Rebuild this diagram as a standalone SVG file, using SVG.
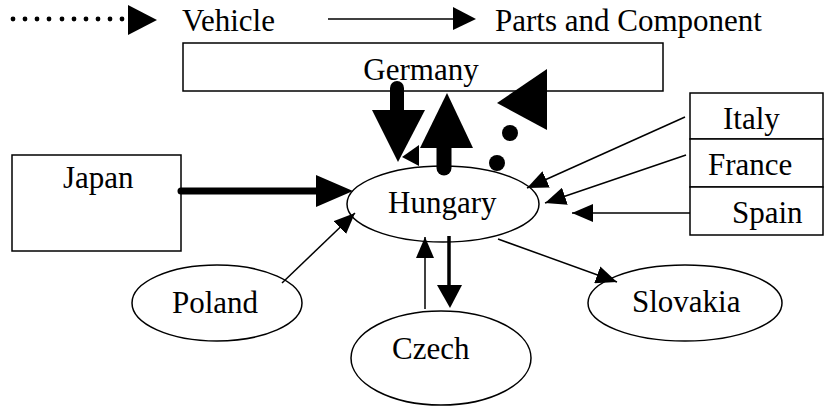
<svg xmlns="http://www.w3.org/2000/svg" width="824" height="407" viewBox="0 0 824 407" font-family="Liberation Serif, Times New Roman, serif">
<style>
  .box { fill: #fff; stroke: #000; stroke-width: 1.5; }
  .lbl { font-family: Liberation Serif, serif; font-size: 31px; fill: #000; }
  .thin { stroke: #000; stroke-width: 1.5; fill: none; }
  .solid { fill: #000; stroke: none; }
</style>
<defs>
  <marker id="ah" markerUnits="userSpaceOnUse" markerWidth="22" markerHeight="18" refX="21" refY="9" orient="auto">
    <polygon points="0,0 21,9 0,18" fill="#000"/>
  </marker>
</defs>
<rect width="824" height="407" fill="#fff"/>

<g id="legend">
  <g class="solid">
    <circle cx="13" cy="19" r="2.4"/><circle cx="25" cy="19" r="2.4"/><circle cx="37" cy="19" r="2.4"/>
    <circle cx="49" cy="19" r="2.4"/><circle cx="62" cy="19" r="2.4"/><circle cx="74" cy="19" r="2.4"/>
    <circle cx="86" cy="19" r="2.4"/><circle cx="98" cy="19" r="2.4"/><circle cx="110" cy="19" r="2.4"/>
    <circle cx="122" cy="19" r="2.4"/>
    <polygon points="128,5 157,20 128,35"/>
  </g>
  <text class="lbl" font-family="Liberation Serif, serif" x="182" y="31">Vehicle</text>
  <line x1="328" y1="19" x2="455" y2="19" stroke="#000" stroke-width="1.5"/>
  <polygon class="solid" points="453,7 476,19 453,30"/>
  <text class="lbl" font-family="Liberation Serif, serif" x="495" y="31">Parts and Component</text>
</g>

<g id="germany">
  <rect class="box" x="183" y="43" width="480" height="48"/>
  <text class="lbl" font-family="Liberation Serif, serif" x="421" y="80" text-anchor="middle">Germany</text>
</g>

<g id="japan">
  <rect class="box" x="12" y="155" width="169" height="96"/>
  <text class="lbl" font-family="Liberation Serif, serif" x="63" y="188">Japan</text>
</g>

<g id="italy">
  <rect class="box" x="690" y="93" width="133" height="46"/>
  <text class="lbl" font-family="Liberation Serif, serif" x="723" y="129">Italy</text>
</g>
<g id="france">
  <rect class="box" x="690" y="139" width="133" height="48"/>
  <text class="lbl" font-family="Liberation Serif, serif" x="708" y="175">France</text>
</g>
<g id="spain">
  <rect class="box" x="690" y="187" width="133" height="48"/>
  <text class="lbl" font-family="Liberation Serif, serif" x="732" y="223">Spain</text>
</g>

<g id="hungary">
  <ellipse class="box" cx="443" cy="204" rx="96" ry="38"/>
  <text class="lbl" font-family="Liberation Serif, serif" x="388" y="213" font-size="32">Hungary</text>
</g>

<g id="poland">
  <ellipse class="box" cx="217" cy="303" rx="85" ry="38"/>
  <text class="lbl" font-family="Liberation Serif, serif" x="172" y="313">Poland</text>
</g>

<g id="slovakia">
  <ellipse class="box" cx="685" cy="303" rx="97" ry="38"/>
  <text class="lbl" font-family="Liberation Serif, serif" x="632" y="312">Slovakia</text>
</g>

<g id="czech">
  <ellipse class="box" cx="441" cy="358" rx="90" ry="47"/>
  <text class="lbl" font-family="Liberation Serif, serif" x="392" y="359">Czech</text>
</g>

<g id="connectors">
  <line x1="397" y1="88" x2="397" y2="112" stroke="#000" stroke-width="14" stroke-linecap="round"/>
  <polygon class="solid" points="372,110 425,110 398,162"/>
  <polygon class="solid" points="402,157 419,145 419,166"/>
  <line x1="444" y1="168" x2="444" y2="146" stroke="#000" stroke-width="15" stroke-linecap="round"/>
  <polygon class="solid" points="420,148 473,148 447,93"/>
  <circle class="solid" cx="497" cy="163" r="8"/>
  <circle class="solid" cx="510" cy="133" r="8"/>
  <polygon class="solid" points="497,103 547,69 547,130"/>
  <line x1="181" y1="191" x2="318" y2="191" stroke="#000" stroke-width="7" stroke-linecap="round"/>
  <polygon class="solid" points="316,175 353,191 316,207"/>
  <line class="thin" x1="685" y1="117" x2="527" y2="188" marker-end="url(#ah)"/>
  <line class="thin" x1="686" y1="155" x2="545" y2="203" marker-end="url(#ah)"/>
  <line class="thin" x1="690" y1="213" x2="572" y2="213" marker-end="url(#ah)"/>
  <line class="thin" x1="282" y1="283" x2="355" y2="213" marker-end="url(#ah)"/>
  <line class="thin" x1="498" y1="239" x2="617" y2="282" marker-end="url(#ah)"/>
  <line class="thin" x1="425" y1="309" x2="425" y2="237" marker-end="url(#ah)"/>
  <line x1="449" y1="236" x2="449" y2="288" stroke="#000" stroke-width="3.5"/>
  <polygon class="solid" points="437,285 462,285 450,308"/>
</g>
</svg>
